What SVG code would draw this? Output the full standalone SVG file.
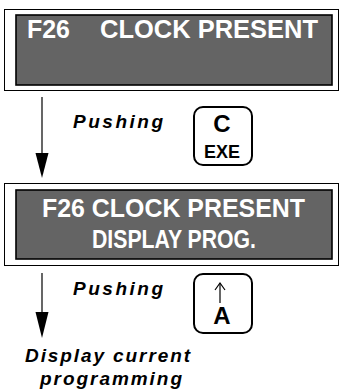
<svg xmlns="http://www.w3.org/2000/svg" width="339" height="390" viewBox="0 0 339 390">
<defs>
<style>
.frame{fill:#fff;stroke:#000;stroke-width:1}
.lcd{fill:#646464;stroke:#000;stroke-width:1.6}
.lcdt{font-family:"Liberation Sans",Arial,sans-serif;font-weight:bold;fill:#fff}
.lbl{font-family:"Liberation Sans",Arial,sans-serif;font-weight:bold;font-style:italic;fill:#000;font-size:19px}
.key{fill:#fff;stroke:#000;stroke-width:2}
.keyt{font-family:"Liberation Sans",Arial,sans-serif;font-weight:bold;fill:#000;text-anchor:middle}
.conn{stroke:#000;stroke-width:1.2;fill:none}
</style>
</defs>
<g id="panel1">
<rect class="frame" x="4.5" y="9.5" width="334" height="81"/>
<rect class="lcd" x="16" y="15" width="316" height="70"/>
<text class="lcdt" font-size="26" y="38"><tspan x="27" textLength="43" lengthAdjust="spacingAndGlyphs">F26</tspan><tspan x="100" textLength="218" lengthAdjust="spacingAndGlyphs">CLOCK PRESENT</tspan></text>
</g>
<g id="panel2">
<rect class="frame" x="4.5" y="183.5" width="334" height="82"/>
<rect class="lcd" x="16" y="190" width="316" height="69"/>
<text class="lcdt" font-size="25" x="42" y="217" textLength="263" lengthAdjust="spacingAndGlyphs">F26 CLOCK PRESENT</text>
<text class="lcdt" font-size="25" x="92" y="248" textLength="164" lengthAdjust="spacingAndGlyphs">DISPLAY PROG.</text>
</g>
<g id="connectors">
<line class="conn" x1="42" y1="97" x2="42" y2="155"/>
<path d="M35.5,153 L48.5,153 L42,178 Z" fill="#000"/>
<line class="conn" x1="42" y1="273" x2="42" y2="314"/>
<path d="M35.5,312 L48.5,312 L42,338 Z" fill="#000"/>
</g>
<g id="label1">
<text class="lbl" x="73" y="128" textLength="90" lengthAdjust="spacing">Pushing</text>
</g>
<g id="key-c-exe">
<rect class="key" x="194" y="107" width="58" height="58" rx="9"/>
<text class="keyt" x="222" y="132" font-size="24">C</text>
<text class="keyt" x="222" y="158" font-size="19" textLength="36" lengthAdjust="spacingAndGlyphs">EXE</text>
</g>
<g id="label2">
<text class="lbl" x="73" y="295" textLength="90" lengthAdjust="spacing">Pushing</text>
</g>
<g id="key-up-a">
<rect class="key" x="194" y="274" width="58" height="59" rx="9"/>
<line x1="220" y1="283" x2="220" y2="303" stroke="#000" stroke-width="1.2"/>
<path d="M215,290 L220,283 L225,290" fill="none" stroke="#000" stroke-width="1.2"/>
<text class="keyt" x="222" y="324" font-size="24">A</text>
</g>
<g id="result">
<text class="lbl" x="25" y="362" textLength="165" lengthAdjust="spacing">Display current</text>
<text class="lbl" x="40" y="385" textLength="142" lengthAdjust="spacing">programming</text>
</g>
</svg>
